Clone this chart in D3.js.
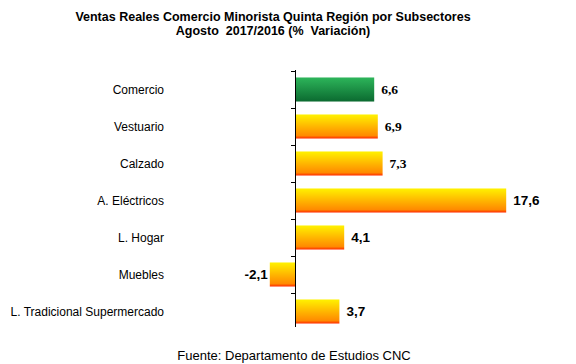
<!DOCTYPE html>
<html>
<head>
<meta charset="utf-8">
<script src="https://cdn.jsdelivr.net/npm/d3@7"></script>
<style>
  body { margin: 0; background: #fff; }
  svg { display: block; }
</style>
</head>
<body>
<div id="vis"></div>
<script>
const categories = ["Comercio", "Vestuario", "Calzado", "A. Eléctricos", "L. Hogar", "Muebles", "L. Tradicional Supermercado"];
const values = [6.6, 6.9, 7.3, 17.6, 4.1, -2.1, 3.7];
const valueLabels = ["6,6", "6,9", "7,3", "17,6", "4,1", "-2,1", "3,7"];
const titleLines = ["Ventas Reales Comercio Minorista Quinta Región por Subsectores", "Agosto  2017/2016 (%  Variación)"];
const source = "Fuente: Departamento de Estudios CNC";

const width = 576, height = 364;

const svg = d3.select("#vis").append("svg")
  .attr("width", width)
  .attr("height", height);

const defs = svg.append("defs");

const orange = defs.append("linearGradient")
  .attr("id", "gOrange")
  .attr("x1", 0).attr("y1", 0).attr("x2", 0).attr("y2", 1);
orange.append("stop").attr("offset", "0%").attr("stop-color", "#fff200");
orange.append("stop").attr("offset", "55%").attr("stop-color", "#ffb000");
orange.append("stop").attr("offset", "88%").attr("stop-color", "#ff8a00");
orange.append("stop").attr("offset", "100%").attr("stop-color", "#ff2a00");

const green = defs.append("linearGradient")
  .attr("id", "gGreen")
  .attr("x1", 0).attr("y1", 0).attr("x2", 0).attr("y2", 1);
green.append("stop").attr("offset", "0%").attr("stop-color", "#2db55a");
green.append("stop").attr("offset", "100%").attr("stop-color", "#0b6a30");

const x = d3.scaleLinear().domain([-4, 20]).range([247, 535]);
const y = d3.scaleBand().domain(categories).range([71, 330])
  .paddingInner(0.35)
  .paddingOuter(0.175);

// title
svg.append("g")
  .attr("font-family", "'Liberation Sans', Arial, sans-serif")
  .attr("font-size", 12.5)
  .attr("font-weight", "bold")
  .attr("text-anchor", "middle")
  .selectAll("text")
  .data(titleLines)
  .join("text")
  .attr("xml:space", "preserve")
  .attr("x", 273)
  .attr("y", (d, i) => 21 + i * 14)
  .text(d => d);

// bars
svg.append("g")
  .selectAll("rect")
  .data(values)
  .join("rect")
  .attr("x", d => x(Math.min(0, d)))
  .attr("y", (d, i) => y(categories[i]))
  .attr("width", d => Math.abs(x(d) - x(0)))
  .attr("height", y.bandwidth())
  .attr("fill", (d, i) => i === 0 ? "url(#gGreen)" : "url(#gOrange)");

// axis with ticks on category boundaries
const [y0, y1] = y.range();
const tickPos = d3.range(categories.length).map(i => y0 + i * y.step());
const axis = svg.append("g").attr("stroke", "#000").attr("stroke-width", 1);
axis.append("line")
  .attr("x1", x(0) + 0.5).attr("x2", x(0) + 0.5)
  .attr("y1", y0 - 1).attr("y2", y1 - 3);
axis.selectAll("line.tick")
  .data(tickPos)
  .join("line")
  .attr("class", "tick")
  .attr("x1", x(0) - 4).attr("x2", x(0) + 0.5)
  .attr("y1", d => Math.round(d) + 0.5)
  .attr("y2", d => Math.round(d) + 0.5);

// category labels
svg.append("g")
  .attr("font-family", "'Liberation Sans', Arial, sans-serif")
  .attr("font-size", 12)
  .attr("text-anchor", "end")
  .selectAll("text")
  .data(categories)
  .join("text")
  .attr("x", 164)
  .attr("y", d => y(d) + y.bandwidth() / 2)
  .attr("dy", "0.35em")
  .text(d => d);

// value labels (the top three come out in a serif face in the original)
svg.append("g")
  .attr("font-size", 13.5)
  .attr("font-weight", "bold")
  .selectAll("text")
  .data(values)
  .join("text")
  .attr("font-family", (d, i) => i < 3 ? "'Liberation Serif', serif" : "'Liberation Sans', Arial, sans-serif")
  .attr("x", d => d < 0 ? x(d) - 2 : x(d) + 7)
  .attr("text-anchor", d => d < 0 ? "end" : "start")
  .attr("y", (d, i) => y(categories[i]) + y.bandwidth() / 2)
  .attr("dy", "0.35em")
  .text((d, i) => valueLabels[i]);

// source
svg.append("text")
  .attr("font-family", "'Liberation Sans', Arial, sans-serif")
  .attr("font-size", 13)
  .attr("text-anchor", "middle")
  .attr("x", 294)
  .attr("y", 360)
  .text(source);
</script>
</body>
</html>
